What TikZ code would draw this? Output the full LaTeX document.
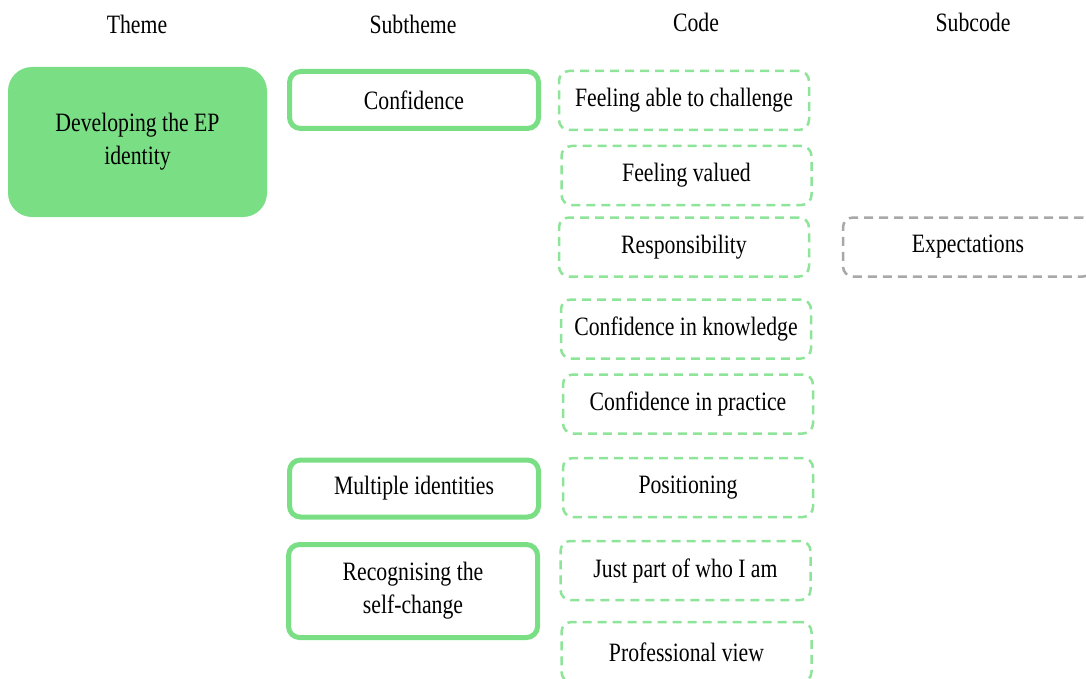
\documentclass[tikz,border=0pt]{standalone}
\usepackage{fontspec}
\setmainfont{Liberation Serif}[FakeStretch=0.82]
\definecolor{themegreen}{RGB}{122,222,132}
\definecolor{codegreen}{RGB}{142,228,152}
\definecolor{subgray}{RGB}{168,168,168}

\begin{document}
\begin{tikzpicture}[x=1pt,y=-1pt,
		every node/.style={font=\fontsize{26.5}{33}\selectfont,align=center},
		themebox/.style={rounded corners=24pt,fill=themegreen,minimum width=259pt,minimum height=150pt},
		subbox/.style={draw=themegreen,line width=5pt,rounded corners=11pt,fill=white,minimum width=249pt,minimum height=57pt},
		codebox/.style={draw=codegreen,line width=2.5pt,dash pattern=on 9pt off 6pt,rounded corners=10pt,minimum width=250pt,minimum height=59pt},
		subcodebox/.style={codebox,draw=subgray}]
			\useasboundingbox (0,0) rectangle (1086,679);
			\clip (0,0) rectangle (1086,679);
			% column heads
			\node (hTheme) at (137,24) {Theme};
			\node (hSub) at (413,24) {Subtheme};
			\node (hCode) at (696,22) {Code};
			\node (hSubcode) at (973,22) {Subcode};
			% theme and subthemes
			\node [themebox] (theme) at (137.5,142) {Developing the EP\\identity};
			\node [subbox] (conf) at (414,100) {Confidence};
			\node [subbox] (multi) at (414,488.5) {Multiple identities};
			\node [subbox,minimum height=93pt] (recog) at (413,591) {Recognising the\\self-change};
			% codes
			\node [codebox] (able) at (684,100.5) {Feeling able to challenge};
			\node [codebox] (valued) at (686.5,175.5) {Feeling valued};
			\node [codebox] (resp) at (684,247) {Responsibility};
			\node [codebox] (know) at (686,329) {Confidence in knowledge};
			\node [codebox] (prac) at (688,404) {Confidence in practice};
			\node [codebox] (pos) at (688,487.5) {Positioning};
			\node [codebox] (part) at (685.5,570.5) {Just part of who I am};
			\node [codebox,minimum height=60pt] (view) at (686.5,652) {Professional view};
			% subcode
			\node [subcodebox] (expect) at (968,247) {Expectations};
		\end{tikzpicture}
\end{document}
